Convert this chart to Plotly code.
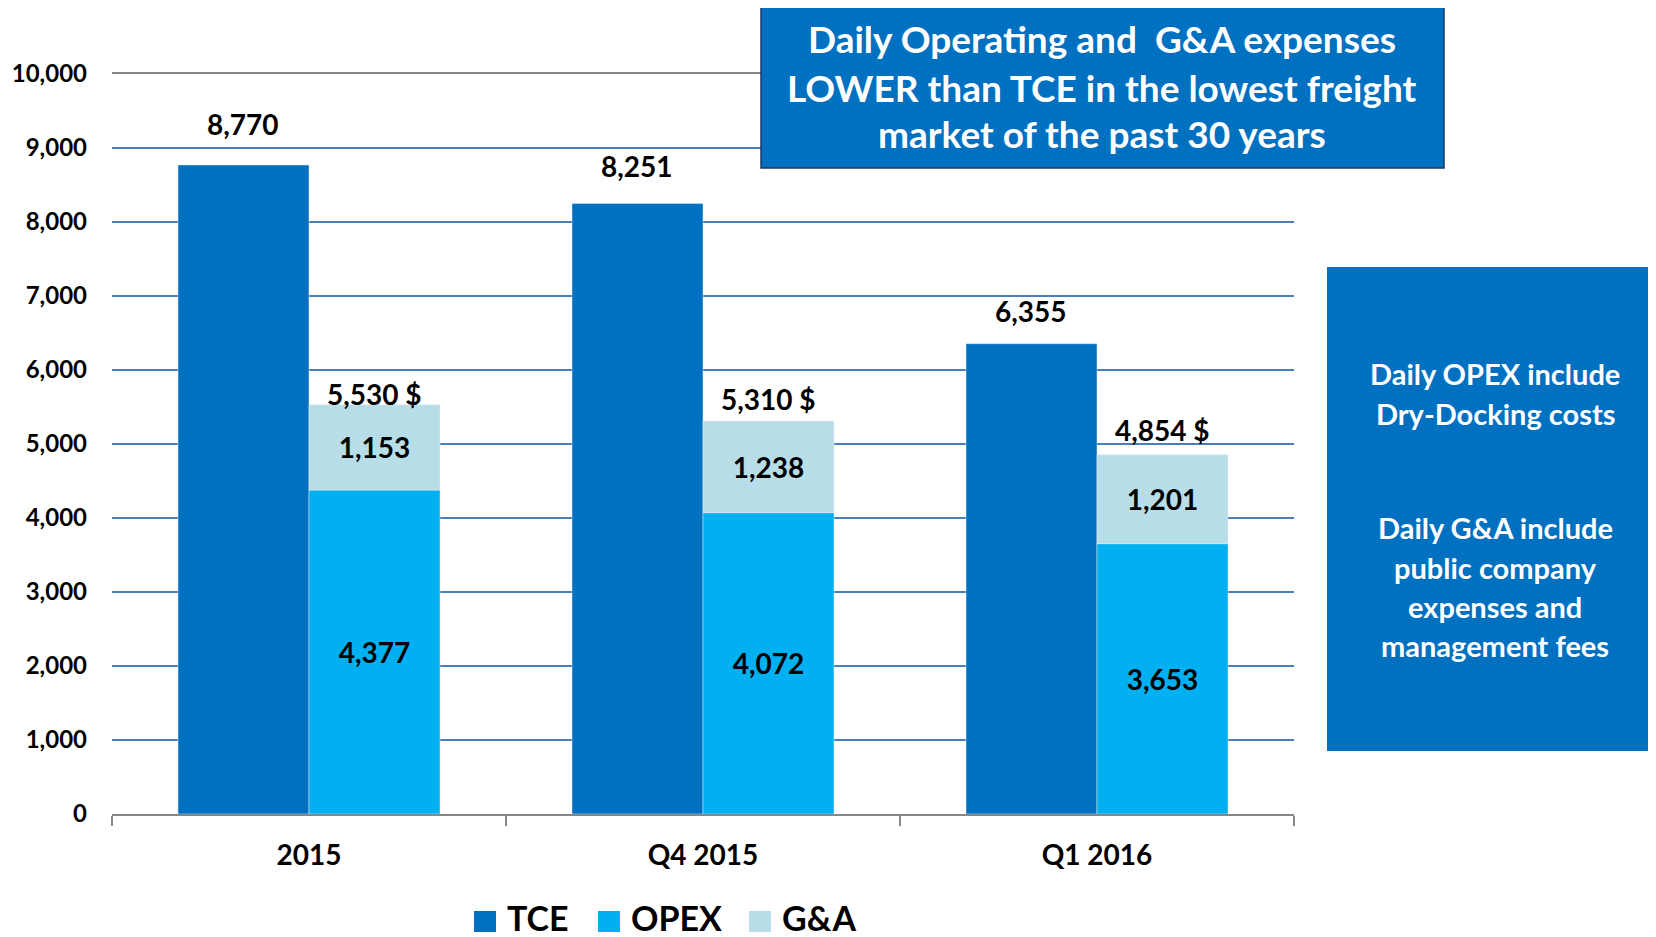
import plotly.graph_objects as go

# ---- data ----
categories = ["2015", "Q4 2015", "Q1 2016"]
tce = [8770, 8251, 6355]
opex = [4377, 4072, 3653]
gna = [1153, 1238, 1201]
totals = [5530, 5310, 4854]
series_names = ["TCE", "OPEX", "G&A"]
box_top_lines = ["Daily Operating and  G&A expenses",
                 "LOWER than TCE in the lowest freight",
                 "market of the past 30 years"]
box_right_lines = ["Daily OPEX include", "Dry-Docking costs", "",
                   "Daily G&A include", "public company", "expenses and", "management fees"]

# ---- style ----
C_TCE, C_OPEX, C_GNA = "#0070C0", "#00B0F0", "#B7DDE8"
FONT = "Lato"
OFF = 8                      # default page body margin
W, H = 1656 - OFF, 937 - OFF
# plot area in reference pixel coordinates
L, R, T, B = 112, 1294, 74, 814


def px(x):
    return (x - L) / (R - L)


def py(y):
    return (B - y) / (B - T)


fig = go.Figure()
fig.add_trace(go.Bar(x=categories, y=tce, name=series_names[0], marker_color=C_TCE,
                     offsetgroup="a", showlegend=False))
fig.add_trace(go.Bar(x=categories, y=opex, name=series_names[1], marker_color=C_OPEX,
                     offsetgroup="b", showlegend=False,
                     text=[f"{v:,}" for v in opex], textposition="inside",
                     insidetextanchor="middle",
                     textfont=dict(family=FONT, size=28, color="black")))
fig.add_trace(go.Bar(x=categories, y=gna, base=opex, name=series_names[2], marker_color=C_GNA,
                     offsetgroup="b", showlegend=False,
                     text=[f"{v:,}" for v in gna], textposition="inside",
                     insidetextanchor="middle",
                     textfont=dict(family=FONT, size=28, color="black")))

half = (R - L) / 3 * (1 - 0.335) / 4
ann = []
tce_shift = [41, 37, 33]
tot_shift = [11, 22, 25]
for i, c in enumerate(categories):
    ann.append(dict(x=i, y=tce[i], xref="x", yref="y", xshift=-half, yshift=tce_shift[i],
                    text=f"{tce[i]:,}", showarrow=False, yanchor="middle",
                    font=dict(family=FONT, size=28, color="black")))
    ann.append(dict(x=i, y=totals[i], xref="x", yref="y", xshift=half, yshift=tot_shift[i],
                    text=f"{totals[i]:,} $", showarrow=False, yanchor="middle",
                    font=dict(family=FONT, size=28, color="black")))

shapes = []
# top box
shapes.append(dict(type="rect", xref="paper", yref="paper", x0=px(761), x1=px(1444),
                   y0=py(168), y1=py(4), fillcolor=C_TCE,
                   line=dict(color="#203864", width=1.5), layer="above"))
for line, yy in zip(box_top_lines, [39, 87, 134]):
    ann.append(dict(xref="paper", yref="paper", x=px(1102), y=py(yy), text=line,
                    showarrow=False, xanchor="center", yanchor="middle",
                    font=dict(family=FONT, size=37, color="white", weight="bold")))
# right box
shapes.append(dict(type="rect", xref="paper", yref="paper", x0=px(1327), x1=px(1670),
                   y0=py(751), y1=py(267), fillcolor=C_TCE, line=dict(width=0), layer="above"))
for line, yy in zip(box_right_lines, [373, 413, 470, 527, 567, 606, 645]):
    if line:
        ann.append(dict(xref="paper", yref="paper", x=px(1495), y=py(yy), text=line,
                        showarrow=False, xanchor="center", yanchor="middle",
                        font=dict(family=FONT, size=29, color="white", weight="bold")))
# legend
for name, col, x0 in zip(series_names, [C_TCE, C_OPEX, C_GNA], [474, 598, 749]):
    shapes.append(dict(type="rect", xref="paper", yref="paper", x0=px(x0), x1=px(x0 + 22),
                       y0=py(932), y1=py(911), fillcolor=col, line=dict(width=0)))
    ann.append(dict(xref="paper", yref="paper", x=px(x0 + 31), y=py(917), text=name,
                    showarrow=False, xanchor="left", yanchor="middle",
                    font=dict(family=FONT, size=34, color="black", weight="bold")))

fig.update_layout(
    width=W, height=H,
    margin=dict(l=L - OFF, r=W - (R - OFF), t=T - OFF, b=H - (B - OFF), pad=0,
                autoexpand=False),
    barmode="group", bargap=0.335, bargroupgap=0,
    plot_bgcolor="white", paper_bgcolor="white",
    font=dict(family=FONT, color="black", weight="bold"),
    annotations=ann, shapes=shapes, showlegend=False,
)
fig.update_xaxes(type="category", categoryorder="array", categoryarray=categories,
                 range=[-0.5, len(categories) - 0.5], autorange=False, automargin=False,
                 showline=True, linecolor="#878787", linewidth=2, mirror=True,
                 ticks="outside", tickson="boundaries", ticklen=10, tickwidth=2,
                 tickcolor="#878787", showgrid=False, tickangle=0,
                 tickfont=dict(family=FONT, size=28, color="black", weight="bold"),
                 ticklabelstandoff=15)
fig.update_yaxes(range=[0, 10000], autorange=False, automargin=False, dtick=1000,
                 tickformat=",", showgrid=True,
                 gridcolor="#4A7EBB", gridwidth=1.5, zeroline=False, ticks="",
                 tickfont=dict(family=FONT, size=24, color="black", weight="bold"),
                 ticklabelstandoff=24)

fig.write_html("out.html")
